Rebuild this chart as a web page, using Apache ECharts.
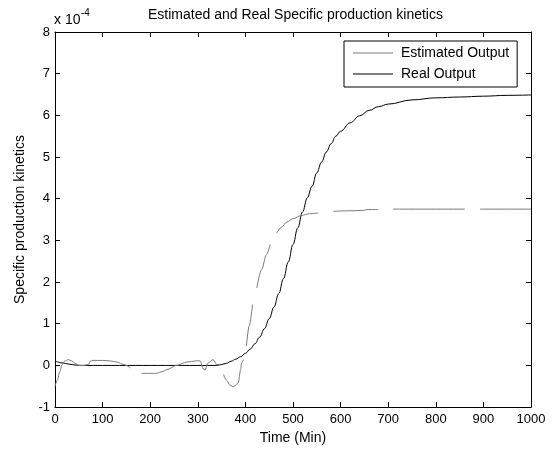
<!DOCTYPE html>
<html>
<head>
<meta charset="utf-8">
<script src="https://cdn.jsdelivr.net/npm/echarts@6/dist/echarts.min.js"></script>
<style>html,body{margin:0;padding:0;background:#fff}#c{width:554px;height:450px}</style>
</head>
<body>
<div id="c"></div>
<script>
// Values in units of 1e-4
var xTicks = [0, 100, 200, 300, 400, 500, 600, 700, 800, 900, 1000];
var yTicks = [-1, 0, 1, 2, 3, 4, 5, 6, 7, 8];

var realT = [0, 15, 30, 45, 60, 340, 350, 360, 370, 380, 390, 400, 410, 420, 430, 440, 450, 460, 470, 480, 490, 500, 510, 520, 530, 540, 550, 560, 570, 580, 590, 600, 620, 640, 660, 680, 700, 750, 800, 850, 900, 950, 1000];
var realV = [0.11, 0.06, 0.03, 0.005, 0, 0, 0.02, 0.05, 0.1, 0.15, 0.21, 0.29, 0.39, 0.52, 0.68, 0.88, 1.12, 1.4, 1.72, 2.08, 2.48, 2.9, 3.3, 3.68, 4.02, 4.3, 4.62, 4.88, 5.12, 5.32, 5.5, 5.62, 5.82, 5.99, 6.12, 6.21, 6.27, 6.37, 6.42, 6.44, 6.46, 6.48, 6.49];

// null = gap in the plotted estimate
var estT = [0, 5, 10, 15, 20, 28, 35, 42, 50, 60, 70, 74, 80, 100, 115, 130, 145, 158, 170,
            182, 213, 225, 235, 255, 277, 297, 305, 311, 315, 322, 332, 340, 348, 350,
            354, 360, 368, 375, 385, 390, 392, 396, 399,
            402, 408, 415, 420,
            424, 434, 444, 452, 458,
            466, 476, 487, 500, 518, 535, 553, 570,
            585, 620, 648, 655, 679, 695,
            710, 861, 877,
            893, 1000];
var estV = [-0.51, -0.35, -0.15, 0.02, 0.1, 0.14, 0.11, 0.05, 0.0, 0.0, 0.02, 0.1, 0.12, 0.12, 0.11, 0.08, 0.02, -0.06, null,
            -0.19, -0.19, -0.15, -0.1, 0.0, 0.08, 0.11, 0.11, -0.08, -0.11, 0.06, 0.14, 0.02, 0.03, null,
            -0.22, -0.35, -0.48, -0.51, -0.42, -0.1, 0.06, 0.14, null,
            0.46, 0.95, 1.46, null,
            1.86, 2.3, 2.65, 2.9, null,
            3.18, 3.32, 3.44, 3.52, 3.6, 3.64, 3.66, null,
            3.7, 3.71, 3.72, 3.74, 3.74, null,
            3.75, 3.75, null,
            3.75, 3.75];

var seriesNames = ['Estimated Output', 'Real Output'];
var titleText = 'Estimated and Real Specific production kinetics';

var realData = realT.map(function (t, i) { return [t, realV[i]]; });
var estData = estT.map(function (t, i) { return [t, estV[i] === null ? '-' : estV[i]]; });

var font = 'Liberation Sans, Arial, sans-serif';
var fsTick = 13;
var fsLab = 14;

var chart = echarts.init(document.getElementById('c'), null, {renderer: 'canvas'});
var axisCommon = {
  axisLine: {show: true, onZero: false, lineStyle: {color: '#000', width: 1}},
  axisTick: {show: true, inside: true, length: 5, lineStyle: {color: '#000'}},
  splitLine: {show: false}
};
chart.setOption({
  animation: false,
  backgroundColor: '#fff',
  title: {
    text: titleText, left: 290.5, top: 3, textAlign: 'center',
    textStyle: {fontFamily: font, fontSize: fsLab, fontWeight: 'normal', color: '#000'}
  },
  grid: {left: 55, right: 23, top: 32, bottom: 42},
  legend: {
    orient: 'vertical', left: 344, top: 41,
    padding: [5, 8, 6, 9], itemGap: 7, itemWidth: 40, itemHeight: 1, icon: 'rect',
    borderColor: '#000', borderWidth: 1, backgroundColor: '#fff',
    textStyle: {fontFamily: font, fontSize: fsLab, color: '#000', padding: [0, 0, 0, 3]},
    data: seriesNames
  },
  xAxis: [
    Object.assign({
      type: 'value', min: xTicks[0], max: xTicks[xTicks.length - 1], interval: 100, position: 'bottom',
      name: 'Time (Min)', nameLocation: 'middle', nameGap: 22,
      nameTextStyle: {fontFamily: font, fontSize: fsLab, color: '#000'},
      axisLabel: {fontFamily: font, fontSize: fsTick, color: '#000', margin: 6,
        formatter: function (v) { return String(v); }}
    }, axisCommon),
    Object.assign({
      type: 'value', min: xTicks[0], max: xTicks[xTicks.length - 1], interval: 100, position: 'top',
      axisLabel: {show: false}
    }, axisCommon)
  ],
  yAxis: [
    Object.assign({
      type: 'value', min: yTicks[0], max: yTicks[yTicks.length - 1], interval: 1, position: 'left',
      name: 'Specific production kinetics', nameLocation: 'middle', nameGap: 26,
      nameTextStyle: {fontFamily: font, fontSize: fsLab, color: '#000'},
      axisLabel: {fontFamily: font, fontSize: fsTick, color: '#000', margin: 5,
        formatter: function (v) { return String(v); }}
    }, axisCommon),
    Object.assign({
      type: 'value', min: yTicks[0], max: yTicks[yTicks.length - 1], interval: 1, position: 'right',
      axisLabel: {show: false}
    }, axisCommon)
  ],
  graphic: [
    {type: 'text', left: 54, top: 13, style: {text: 'x 10', fontFamily: font, fontSize: 14, fill: '#000'}},
    {type: 'text', left: 81, top: 8, style: {text: '-4', fontFamily: font, fontSize: 10, fill: '#000'}}
  ],
  series: [
    {
      name: seriesNames[0], type: 'line', data: estData, symbol: 'none', connectNulls: false,
      smooth: 0.3, smoothMonotone: 'x',
      lineStyle: {color: '#7a7a7a', width: 1}, itemStyle: {color: '#7a7a7a'}, z: 3
    },
    {
      name: seriesNames[1], type: 'line', data: realData, symbol: 'none',
      smooth: 0.4, smoothMonotone: 'x',
      lineStyle: {color: '#000', width: 1}, itemStyle: {color: '#000'}, z: 2
    }
  ]
});
</script>
</body>
</html>
